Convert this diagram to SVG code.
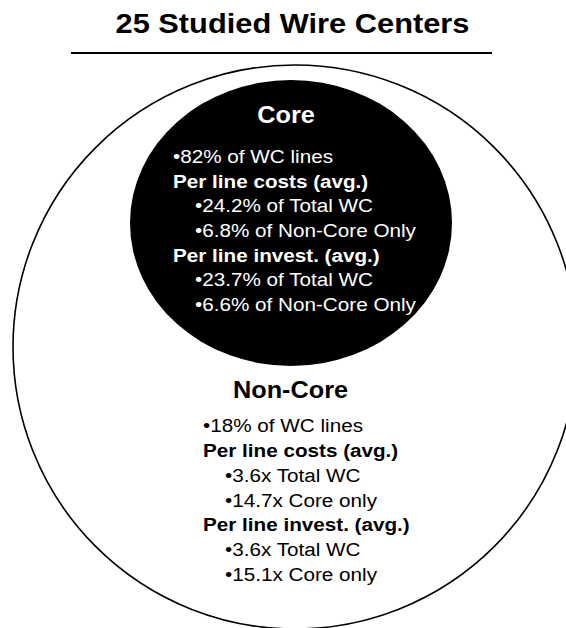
<svg xmlns="http://www.w3.org/2000/svg" width="566" height="628" viewBox="0 0 566 628">
  <style>
    text { font-family: "Liberation Sans", Arial, Helvetica, sans-serif; }
    .title { font-size: 28px; font-weight: bold; fill: #000; text-anchor: middle; }
    .head { font-size: 23px; font-weight: bold; text-anchor: middle; }
    .b { font-size: 18.8px; font-weight: bold; }
    .r { font-size: 18.8px; }
    .w { fill: #fff; }
    .k { fill: #000; }
  </style>
  <rect x="0" y="0" width="566" height="628" fill="#fff"/>
  <g id="title">
    <g transform="scale(1.1,1)">
      <text class="title" x="265.9" y="33">25 Studied Wire Centers</text>
    </g>
    <line x1="71" y1="53" x2="492" y2="53" stroke="#000" stroke-width="2"/>
  </g>
  <g id="connectors"></g>
  <g id="noncore">
    <circle cx="295" cy="347" r="282" fill="#fff" stroke="#000" stroke-width="1.6"/>
    <g transform="scale(1.1,1)">
      <text class="head k" x="264.1" y="398">Non-Core</text>
      <text class="r k" x="184.55" y="432">•18% of WC lines</text>
      <text class="b k" x="184.55" y="457">Per line costs (avg.)</text>
      <text class="r k" x="204.55" y="482">•3.6x Total WC</text>
      <text class="r k" x="204.55" y="507">•14.7x Core only</text>
      <text class="b k" x="184.55" y="531">Per line invest. (avg.)</text>
      <text class="r k" x="204.55" y="556">•3.6x Total WC</text>
      <text class="r k" x="204.55" y="581">•15.1x Core only</text>
    </g>
  </g>
  <g id="core">
    <ellipse cx="291" cy="223" rx="161" ry="143" fill="#000"/>
    <g transform="scale(1.1,1)">
      <text class="head w" x="260" y="123">Core</text>
      <text class="r w" x="157.27" y="163">•82% of WC lines</text>
      <text class="b w" x="157.27" y="187.7">Per line costs (avg.)</text>
      <text class="r w" x="177.27" y="212.4">•24.2% of Total WC</text>
      <text class="r w" x="177.27" y="237.1">•6.8% of Non-Core Only</text>
      <text class="b w" x="157.27" y="261.8">Per line invest. (avg.)</text>
      <text class="r w" x="177.27" y="286.5">•23.7% of Total WC</text>
      <text class="r w" x="177.27" y="311.2">•6.6% of Non-Core Only</text>
    </g>
  </g>
</svg>
